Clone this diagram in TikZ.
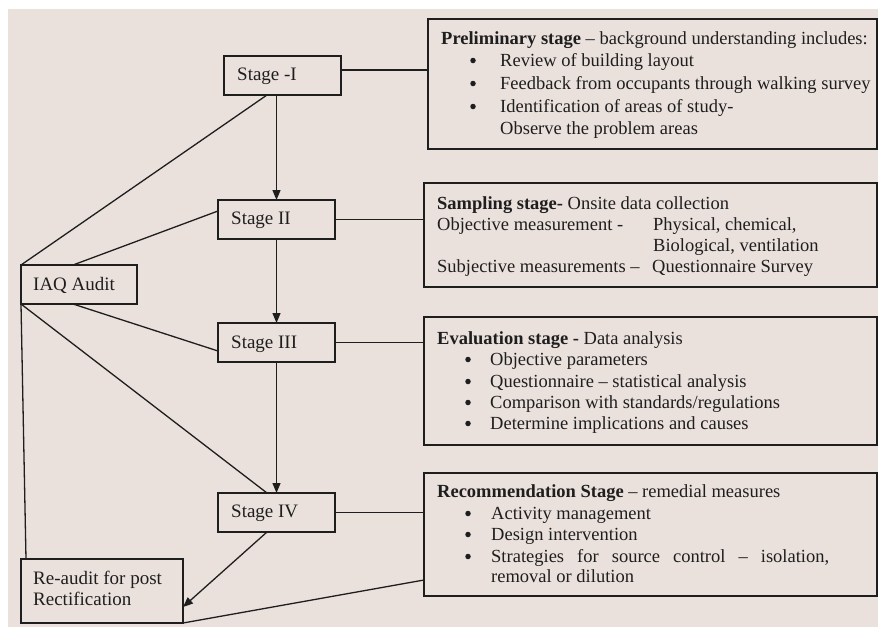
\documentclass[tikz,border=0pt]{standalone}
\usepackage{fontspec}
\setmainfont{Liberation Serif}
\usetikzlibrary{arrows.meta}
\definecolor{bgc}{RGB}{234,225,220}
\definecolor{ink}{RGB}{30,30,30}
\begin{document}
\begin{tikzpicture}[x=1pt,y=-1pt,
 box/.style={draw=ink,line width=1.4pt,rectangle,inner sep=0pt,outer sep=0pt,anchor=north west},
 conn/.style={draw=ink,line width=1.3pt},
 arr/.style={conn,-{Triangle[length=10pt,width=8pt]}},
 txt/.style={anchor=base west,inner sep=0pt,text=ink,font=\fontsize{18.5}{22}\selectfont},
 stxt/.style={txt,font=\fontsize{19}{22}\selectfont},
 bul/.style={circle,fill=ink,inner sep=0pt,minimum size=5.5pt,yshift=5.5pt}]
\useasboundingbox (0,0) rectangle (878,627);
\fill[bgc] (8,9) rectangle (878,627);

% left boxes
\node[box,minimum width=117pt,minimum height=39pt] (s1) at (224,56) {};
\node[box,minimum width=117pt,minimum height=39pt] (s2) at (218,200) {};
\node[box,minimum width=117pt,minimum height=39pt] (s3) at (218,323) {};
\node[box,minimum width=117pt,minimum height=39pt] (s4) at (218,493) {};
\node[box,minimum width=116pt,minimum height=39pt] (iaq) at (21,265) {};
\node[box,minimum width=162pt,minimum height=64pt] (ra) at (21,559) {};
% right boxes
\node[box,minimum width=449pt,minimum height=130pt] (pre) at (428,19) {};
\node[box,minimum width=453pt,minimum height=104pt] (smp) at (424,183) {};
\node[box,minimum width=453pt,minimum height=128pt] (evl) at (424,317) {};
\node[box,minimum width=453pt,minimum height=123pt] (rec) at (424,473) {};

% left texts
\node[stxt] (ts1) at (237,80) {Stage -I};
\node[stxt] (ts2) at (231,224) {Stage II};
\node[stxt] (ts3) at (231,348) {Stage III};
\node[stxt] (ts4) at (231,517) {Stage IV};
\node[stxt] (tiaq) at (33,290) {IAQ Audit};
\node[stxt] (tra1) at (33,584) {Re-audit for post};
\node[stxt] (tra2) at (33,605) {Rectification};

% preliminary
\node[txt] (tp0) at (441,44) {\textbf{Preliminary stage} – background understanding includes:};
\node[bul] (bp1) at (473,66) {};
\node[txt] (tp1) at (500,66) {Review of building layout};
\node[bul] (bp2) at (473,89) {};
\node[txt] (tp2) at (500,89) {Feedback from occupants through walking survey};
\node[bul] (bp3) at (473,112) {};
\node[txt] (tp3) at (500,112) {Identification of areas of study-};
\node[txt] (tp4) at (500,134) {Observe the problem areas};

% sampling
\node[txt] (tm0) at (437,209) {\textbf{Sampling stage-} Onsite data collection};
\node[txt] (tm1) at (437,230) {Objective measurement -};
\node[txt] (tm2) at (653,230) {Physical, chemical,};
\node[txt] (tm3) at (653,251) {Biological, ventilation};
\node[txt] (tm4) at (437,272) {Subjective measurements –};
\node[txt] (tm5) at (652,272) {Questionnaire Survey};

% evaluation
\node[txt] (te0) at (437,344) {\textbf{Evaluation stage -} Data analysis};
\node[bul] (be1) at (468,365) {};
\node[txt] (te1) at (490,365) {Objective parameters};
\node[bul] (be2) at (468,387) {};
\node[txt] (te2) at (490,387) {Questionnaire – statistical analysis};
\node[bul] (be3) at (468,408) {};
\node[txt] (te3) at (490,408) {Comparison with standards/regulations};
\node[bul] (be4) at (468,429) {};
\node[txt] (te4) at (490,429) {Determine implications and causes};

% recommendation
\node[txt] (tr0) at (437,497) {\textbf{Recommendation Stage} – remedial measures};
\node[bul] (br1) at (468,519) {};
\node[txt] (tr1) at (491,519) {Activity management};
\node[bul] (br2) at (468,540) {};
\node[txt] (tr2) at (491,540) {Design intervention};
\node[bul] (br3) at (468,562) {};
\node[txt] (tr3) at (491,562) {\hbox to 338pt{Strategies\hfil for\hfil source\hfil control\hfil –\hfil isolation,}};
\node[txt] (tr4) at (491,582) {removal or dilution};

% connectors stage -> description
\coordinate (a1) at ([yshift=5.5pt]s1.east);
\draw[conn] (a1) -- (a1 -| pre.west);
\draw[conn] (s2.east) -- (s2.east -| smp.west);
\draw[conn] (s3.east) -- (s3.east -| evl.west);
\draw[conn] (s4.east) -- (s4.east -| rec.west);

% arrows between stages
\draw[arr] (s1.south -| s2.north) -- (s2.north);
\draw[arr] (s2.south) -- (s3.north);
\draw[arr] (s3.south) -- (s4.north);
\draw[arr] ([xshift=-9.5pt]s4.south) -- ([yshift=-16pt]ra.east);

% IAQ audit lines
\draw[conn] (iaq.north west) -- ([xshift=-15.5pt]s1.south);
\draw[conn] ([xshift=-6pt]iaq.north) -- ([yshift=8.5pt]s2.west);
\draw[conn] ([xshift=-6pt]iaq.south) -- ([yshift=-8.5pt]s3.west);
\draw[conn] (iaq.south west) -- ([xshift=-9.5pt]s4.north);
\draw[conn] (iaq.south west) -- ([xshift=5pt]ra.north west);
\draw[conn] ([yshift=-45.5pt]rec.west) -- (ra.south east);
\end{tikzpicture}
\end{document}
